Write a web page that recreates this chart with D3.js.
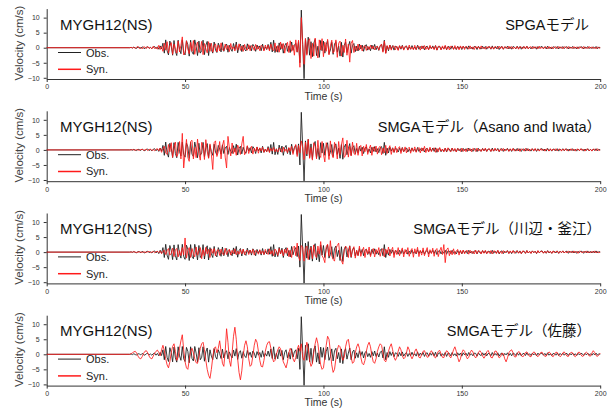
<!DOCTYPE html>
<html lang="ja">
<head>
<meta charset="UTF-8">
<script src="https://cdn.jsdelivr.net/npm/d3@7"></script>
<style>
  body { margin: 0; background: #fff; }
  svg { display: block; }
  text { font-family: "Liberation Sans", Arial, "Noto Sans CJK JP", sans-serif; }
</style>
<title>MYGH12 velocity</title>
</head>
<body>
<div id="chart"></div>
<script>
// ---- data (velocity in cm/s) ----
var stationLabel = "MYGH12(NS)";
var modelLabels = ["SPGAモデル", "SMGAモデル（Asano and Iwata）", "SMGAモデル（川辺・釜江）", "SMGAモデル（佐藤）"];
var legendLabels = ["Obs.", "Syn."];
var xTicks = [0, 50, 100, 150, 200];
var yTicks = [-10, -5, 0, 5, 10];

// traces are flat (0) before sampleStart, then sampled every sampleStep seconds up to 200 s
var sampleStart = 30, sampleStep = 0.5;

var obs = [
  0, 0.1, -0.1, 0.2, -0.1, -0.2, 0.2, 0.1, -0.2, 0.3, -0.1, -0.3, 0.2, 0.3, -0.2, 0.1, -0.3, 0.2, 0.4, -0.3,
  0.3, -0.5, 0.6, -0.4, 1.5, -1.8, 2.6, -1, -2.4, 2.2, 0.5, -2.5, 2.4, -1.2, -2.6, 2.5, -0.5, -2, 2.6, -1.5,
  -2.4, 2.3, 1, -2.8, 2.5, -1.4, -2.2, 2.6, 0.4, -2.6, 2.2, -1.8, -1, 2.5, -2.3, 0.8, 2.1, -2.6, 1.5, -0.6,
  -1.8, 1.9, -0.8, -1.6, 1.5, 0.3, -1.4, 1.7, -1.2, 0.6, 1.2, -1.5, 0.8, -0.4, -1.2, 1.4, -0.6, 1.9, -1.7, 0.5,
  1.2, -1.3, 0.9, -0.5, -1.1, 1.3, -0.4, 0.7, -1, 1.1, 0.4, -1.2, 0.9, -0.3, 0.6, -1, 1.2, -0.8, 0.3, -0.6,
  1.1, -0.7, 1.8, -1.4, 2.5, -1.6, 0.4, -1.5, 1.6, -0.6, 1.3, -1.8, 0.7, 1.5, -1.2, 0.6, -1.6, 1.9, -0.9, 0.8,
  1.5, -1.5, 2, -5, 12.5, 1, -10.3, 3, -2, 3.5, -2.5, 2, -3, 1.5, 2.8, -2.6, 0.5, -3.2, 2.4, -1,
  2.2, -1.8, 1, 2.4, -2, -0.8, 1.8, -2.2, 1.2, 2, -1.5, 0.6, -2.8, 1.8, -3.1, 0.8, 1.9, -1.6, 0.4, 2.1,
  -1.8, 0.8, 1.4, -1.3, 0.5, -1.1, 1.2, -0.4, 0.9, -1.2, 0.6, 1, -0.8, 0.3, -1, 0.9, -0.5, 1.1, -0.7, 0.4,
  -0.9, 0.7, 1.1, -1.2, 2.5, -1.8, 0.6, -1, 0.9, -0.4, 0.7, -0.8, 0.5, 0.3, -0.7, 0.6, -0.5, 0.8, -0.6, 0.2,
  0.6, -0.7, 0.3, -0.5, 0.7, -0.4, 0.2, -0.6, 0.8, -0.5, 0.4, -0.3, 0.6, -0.7, 0.3, 0.5, -0.6, 0.4, -0.3, 0.6,
  -0.5, 0.7, -0.8, 0.3, 0.5, -0.6, 0.2, -0.4, 0.6, -0.7, 0.4, 0.3, -0.5, 0.6, -0.4, 0.2, -0.6, 0.5, -0.3, 0.4,
  -0.6, 0.5, -0.2, 0.4, -0.5, 0.6, -0.3, 0.2, -0.5, 0.4, 0.3, -0.6, 0.5, -0.2, -0.4, 0.5, -0.3, 0.4, -0.5, 0.3,
  0.2, -0.5, 0.6, -0.4, 0.3, -0.3, 0.5, -0.6, 0.2, 0.4, -0.5, 0.3, -0.2, 0.5, -0.4, 0.3, -0.5, 0.4, 0.2, -0.4,
  0.5, -0.3, 0.4, -0.5, 0.2, 0.3, -0.4, 0.5, -0.3, 0.2, -0.4, 0.4, -0.2, 0.3, -0.5, 0.4, -0.2, 0.3, 0.4, -0.3,
  0.3, -0.4, 0.5, -0.3, 0.2, -0.4, 0.3, 0.2, -0.3, 0.4, -0.4, 0.3, -0.2, 0.4, -0.3, 0.2, 0.3, -0.4, 0.3, -0.2,
  0.4, -0.3, 0.2, -0.4, 0.3, -0.2, 0.3, 0.2, -0.4, 0.3, -0.2, 0.4, -0.3, 0.2, -0.3, 0.3, -0.2, 0.4, -0.3, 0.2,
  0
];

var synSPGA = [
  0, 0.1, -0.1, 0.2, -0.3, 0.2, 0.4, -0.3, 0.1, -0.4, 0.3, 0.2, -0.3, 0.4, -0.2, 0.1, -0.4, 0.5, -0.3, 0.2,
  -0.5, 0.8, -0.6, 0.4, -1.2, 1.5, -0.8, 2, -1.8, 0.6, 1.7, -2.2, 1.2, -0.5, -1.8, 2.2, -1.4, 0.8, 3.6, -2.4,
  -1.6, 2.3, -0.5, -2, 1.8, -1.2, 2.4, -2.2, 0.6, 1.9, -1.6, -0.6, 2.1, -2.3, 1.4, -0.4, -1.7, 2, -1.2, 1.5,
  -1.5, 0.5, 1.3, -1.4, 0.9, -1.1, 1.6, -0.7, -1, 1.2, -0.6, 0.8, -1.3, 1.4, -0.5, 0.3, -1.1, 1, -0.8, 1.3,
  -0.9, 0.6, -1.2, 1.1, -0.4, -0.8, 1, -1, 0.7, 0.3, -0.9, 1.1, -0.6, 0.5, -1, 0.8, 0.4, -1.1, 0.9, -0.5,
  0.8, -1.1, 1.2, -0.5, -1, 1.6, -1.3, 0.7, -1.5, 1.9, -0.4, 1.4, -1.8, 0.6, 1.8, -1.6, 2.3, -1.2, 0.9, -2.5,
  2.6, -1.4, 2.5, -6.5, 10, 1, -5.5, 3, -2.5, 2, 3, -3.6, 1.5, -2.8, 3.2, -1, -3.4, 2.6, -0.8, 3,
  -3, 1.8, -1.2, 2.8, -2.4, 0.6, 2.5, -1.8, -1, 2.6, -3.2, 1.5, 2.2, -2.8, 0.8, -1.6, 2.9, -2.5, 1.2, -4.8,
  1.5, 2.4, -1.6, 0.5, -1, 1.2, -0.8, 0.9, -1.1, 0.4, 0.7, -0.9, 0.5, -0.6, 0.8, -0.4, 0.6, -0.7, 0.3, 0.5,
  -0.8, 0.6, 1.2, -1.5, 2.2, -1.9, 0.7, -0.6, 0.9, -0.8, 0.4, 0.6, -0.7, 0.5, -0.9, 0.7, -0.3, 0.6, -0.8, 0.5,
  0.4, -0.8, 0.9, -0.5, 0.2, -0.7, 0.8, -0.6, 0.4, 0.5, -0.8, 0.6, -0.4, 0.7, -0.6, 0.3, -0.7, 0.8, -0.4, 0.3,
  -0.6, 0.7, -0.8, 0.5, 0.3, -0.7, 0.6, -0.5, 0.8, -0.6, 0.4, -0.7, 0.5, 0.3, -0.6, 0.7, -0.5, 0.4, -0.7, 0.6,
  -0.3, 0.5, -0.6, 0.4, 0.2, -0.5, 0.6, -0.4, 0.3, -0.6, 0.5, -0.2, 0.4, -0.5, 0.6, -0.3, 0.2, -0.5, 0.4, -0.2,
  0.5, -0.4, 0.3, -0.5, 0.4, 0.2, -0.4, 0.5, -0.3, 0.4, -0.5, 0.3, 0.2, -0.4, 0.5, -0.3, 0.4, -0.4, 0.2, -0.3,
  0.4, -0.5, 0.3, 0.2, -0.4, 0.4, -0.3, 0.5, -0.4, 0.2, 0.3, -0.4, 0.4, -0.2, 0.3, -0.4, 0.5, -0.3, 0.2, -0.4,
  0.3, 0.2, -0.4, 0.4, -0.3, 0.3, -0.4, 0.2, 0.3, -0.3, 0.4, -0.2, 0.3, -0.4, 0.3, 0.2, -0.3, 0.4, -0.3, 0.2,
  -0.3, 0.4, -0.2, 0.3, -0.4, 0.3, 0.2, -0.3, 0.4, -0.3, 0.2, -0.3, 0.4, -0.2, 0.3, -0.3, 0.2, -0.4, 0.3, -0.2,
  0
];

var synAsano = [
  0, 0, 0.1, 0, -0.1, 0.1, 0, -0.1, 0.1, 0.2, -0.1, 0, 0.2, -0.2, 0.1, 0.3, -0.2, 0.1, -0.3, 0.2,
  0.4, -0.3, 0.6, -0.8, 0.5, 1.2, -1, -1.5, 1.8, -0.6, 2.4, -2.5, 0.8, 2.6, -2.2, -1.2, 2.8, -3, 5.5, -6,
  -1, 3.5, -2.5, -3.8, 2.8, 3.2, -3, 0.8, -2.6, 3.6, -1.2, -3.4, 2.5, 1.5, -3.2, 3.4, -0.5, -2.8, 2, -1.5,
  -6.5, 2.4, 3, -2.2, -0.6, 2.8, -3, 1.4, 3.2, -2.4, -6, 4.5, 0.8, -2, 2.3, -1.2, 0.6, -1.8, 1.6, 0.4,
  -1.5, 2, 4.5, -1.6, -0.8, 1.4, -1.2, 0.5, 1.2, -1.4, 0.6, -0.5, 1, -1.1, 0.7, -0.4, 0.9, -0.8, 0.3, -0.6,
  0.7, -0.9, 0.5, -0.4, 0.8, -0.6, 0.3, -0.7, 0.6, 0.4, -0.8, 0.9, -0.5, 0.3, -0.9, 0.8, -0.4, 1.2, -1.5, 0.6,
  1.8, -2.2, 1.5, -1, 3, 0.8, -3.2, 2.6, -1.4, 3.5, -2.8, 0.8, -3.4, 2.4, 1.2, -3, 3.2, -1.8, -2.5, 2.8,
  -1.4, -4, 2.4, 1, -3.2, 3, -1.2, -2.6, 2.5, 0.6, -3, 2.8, -1.6, 1.8, 4, -2.5, -1.8, 3.2, -2.4, 1.2,
  -2, 2.6, -1.2, -1.6, 2.2, -1.8, 0.8, 1.5, -2, 1.2, -0.6, 1.8, -1.5, 0.4, 1.6, -1.8, 1, -0.5, 1.3, -1.4,
  0.8, 1.2, -1.6, 0.6, -1, 1.5, -1.2, 0.4, 1.4, -1.5, 0.6, -0.8, 1.2, -0.9, 0.5, 1.1, -1.2, 0.7, -0.6, 1,
  -1, 0.4, 0.9, -1.1, 0.6, -0.5, 1, -0.8, 0.3, 0.8, -1, 0.7, -0.4, 1.2, -0.9, 0.5, -0.7, 0.9, -0.6, 0.3,
  0.7, -0.8, 0.5, -0.6, 0.8, -0.4, 0.3, -0.7, 0.6, -0.5, 0.7, -0.3, -0.6, 0.6, -0.4, 0.5, -0.7, 0.4, 0.2, -0.5,
  0.6, -0.5, 0.3, -0.6, 0.5, -0.3, 0.4, -0.6, 0.5, 0.2, -0.5, 0.6, -0.4, 0.3, -0.5, 0.4, -0.3, 0.6, -0.5, 0.2,
  0.4, -0.5, 0.3, -0.4, 0.6, -0.3, 0.2, -0.5, 0.4, -0.3, 0.5, -0.4, 0.2, 0.3, -0.5, 0.4, -0.3, 0.5, -0.4, 0.2,
  -0.3, 0.4, -0.5, 0.3, 0.2, -0.4, 0.5, -0.3, 0.4, -0.4, 0.2, 0.3, -0.4, 0.5, -0.3, 0.2, -0.4, 0.4, -0.2, 0.3,
  -0.4, 0.3, 0.2, -0.4, 0.4, -0.3, 0.3, -0.2, 0.4, -0.3, 0.2, 0.3, -0.4, 0.3, -0.2, 0.4, -0.3, 0.2, -0.3, 0.4,
  -0.2, 0.3, -0.4, 0.2, 0.3, -0.3, 0.4, -0.2, 0.3, -0.4, 0.2, 0.3, -0.3, 0.2, -0.4, 0.3, 0.2, -0.3, 0.4, -0.2,
  0
];

var synKawabe = [
  0, 0, 0, 0.1, 0, -0.1, 0, 0.1, 0, -0.1, 0.1, 0, -0.1, 0.1, 0.2, -0.1, 0, 0.2, -0.2, 0.1,
  0.3, -0.2, 0.4, -0.5, 0.3, 0.6, -0.8, 0.5, 1.2, -1, -0.4, 1.3, -1.5, 0.8, 1.2, -1.6, 0.5, -1.2, 1.5, -0.9,
  4.7, -2, 0.6, 1.5, -1.8, 1.2, -0.5, -1.6, 1.7, -1, 0.4, 1.5, -2.2, 0.8, -1.2, 1.6, -0.6, 0.9, -1.8, 1.1,
  -0.4, 1.2, -1.3, 0.5, 0.8, -1.1, 1, -0.6, -0.9, 1.3, -0.8, 0.4, 0.9, -1, 0.6, -0.5, 1.1, -0.9, 0.3, -0.7,
  0.8, -0.6, 1, -0.9, 0.4, 0.6, -0.8, 0.7, -0.4, 0.9, -1, 0.5, 0.3, -0.7, 0.8, -0.6, 0.4, -0.8, 0.9, -0.3,
  -0.8, 1.1, -0.7, 0.5, -1.2, 1, 0.3, -1.1, 1.2, -0.6, 0.8, -1.3, 1, -0.4, 1.4, -1.5, 0.6, -1.8, 1.5, 2,
  -1.2, 3, -1.5, -2.8, 2.2, 1.6, -3, 1.2, 2, -2.5, 0.6, 1.6, -2.2, 2.4, -1, -1.8, 2, -0.6, 3.5, -1.2,
  -2, -3.5, 1.8, 2.6, -1.4, 3.8, -1.2, -2.4, -3, 1.2, 2.2, 3, -1.6, -2.8, -4, 0.8, 2, 1.4, -1.8, 2,
  -1.6, 0.8, 1.8, -2, 0.6, -1.2, 2, -1.4, 0.4, 1.6, -1.8, 1, -0.6, 1.7, -1.5, 0.5, 1.2, -1.6, 0.9, -0.4,
  1.5, -1.4, 0.6, 1.2, -1.6, 1, -0.5, 1.7, -1.3, 0.4, 1.6, -1.8, 0.7, -0.8, 1.5, -1.2, 0.3, 1.4, -1.6, 0.9,
  -0.6, 1.5, -1.4, 0.5, 1.2, -1.7, 1.1, -0.4, 1.6, -1.5, 0.6, -1, 1.4, -1.2, 0.4, 1.5, -1.6, 0.8, -0.5, 1.3,
  -1.4, 0.6, 1.2, -1.5, 0.4, 1.6, -0.8, 2.5, -3.5, 0.8, 1.4, -1.2, 0.5, -0.9, 1.1, -0.8, 0.3, 0.9, -1, 0.6,
  -0.5, 0.7, -0.6, 0.4, 0.5, -0.7, 0.6, -0.4, 0.3, -0.6, 0.7, -0.5, 0.4, 0.3, -0.6, 0.5, -0.4, 0.6, -0.5, 0.3,
  -0.4, 0.5, -0.6, 0.4, 0.3, -0.5, 0.6, -0.4, 0.3, -0.5, 0.5, -0.3, 0.2, 0.4, -0.5, 0.4, -0.3, 0.5, -0.4, 0.2,
  0.4, -0.4, 0.3, -0.5, 0.4, 0.2, -0.4, 0.5, -0.3, 0.3, -0.4, 0.4, -0.2, 0.3, -0.4, 0.5, -0.3, 0.2, 0.3, -0.4,
  0.3, -0.3, 0.4, -0.2, 0.3, -0.4, 0.4, -0.3, 0.2, 0.3, -0.4, 0.3, -0.2, 0.4, -0.3, 0.2, -0.3, 0.4, -0.2, 0.3,
  -0.3, 0.4, -0.2, 0.3, -0.4, 0.3, 0.2, -0.3, 0.3, -0.2, 0.4, -0.3, 0.2, -0.3, 0.3, -0.2, 0.4, -0.3, 0.2, -0.2,
  0
];

var synSato = [
  0, 0.2, 0.5, 0.8, 1, 0.4, -0.6, -1.3, -1.5, -0.8, 0.3, 1, 1.2, 0.5, -0.6, -1.3, -1.5, -0.6, 0.4, 1,
  1.4, 0.6, -0.5, 1.5, 3, 1.2, -1.5, -3.5, -4.5, -2.5, 0.5, 2.6, 3.5, 1, -2, -1, 2, 4.5, 6.5, 1.5,
  -2.5, -4.5, -5, -2, 1, 2, 0.5, -1.5, -2.8, -3, -0.5, 2, 3.5, 4, 1.5, -2, -5, -7, -8, -5,
  -1, 2, 2.5, 0.5, 2, 4.5, 1, -3, -4, 1, 8.5, 4, -2, -4, 0.5, 6, 9, 5, -1.5, -6,
  -8.5, -5.5, -0.5, 3, 4.5, 2.5, -1.5, -4, -3.5, -0.5, 3, 5, 4, 1, -2, -4, -4.2, -2, 1, 3,
  4, 4.2, 2, -1, -2.5, -2, 0, 1.5, 2.5, 1.8, -0.5, -2.5, -3.5, -4.5, -2.5, 0.5, 2, 1, -1.5, -2.5,
  -1, 1.5, 3, 1, 3.5, -1, -2, 1.5, 4, 2, -2, -4, -3, 0.5, 3.5, 5.5, 3.5, -0.5, -3.5, -5,
  -4.5, -1, 3, 6, 5, 1, -3.5, -6, -5, -1.5, 1.5, 3, 2.5, 0, -2, -1, 2.5, 4.5, 5, 2,
  -1, -3, -2.5, 0.5, 2.5, 3.5, 2, -1, -3, -3.5, -2, 1, 3, 4, 2.5, -0.5, -2.5, -3, -1.5, 1,
  2.5, 3.5, 3, 0.5, -2, -2.5, -1, 1, 2.5, 3.5, 1.5, -1, -2, -1, 1, 2.5, 1.5, -0.5, -1.5, -1,
  0.5, 2.5, 1.5, -0.5, -1.5, -0.5, 1, 1.8, 0.5, -1, -1.2, 0, 1, 1.2, 0, -1, -0.8, 0.5, 1.2, 0.3,
  -0.8, -1.2, 0, 1, 1.3, 0.2, -1, -1.1, 0.2, 1.2, 0.8, -0.6, -1.2, 0, 1.5, 2.5, 1, -1, -2.5, -1.5,
  0.5, 1.5, 1, -0.5, -1.5, -1, 0.5, 1.4, 0.8, -0.5, -1.2, -0.6, 0.6, 1.2, 0.6, -0.6, -1.3, -0.5, 0.8, 1.3,
  0.3, -1, -1.2, 0, 1.1, 1, -0.3, -1.2, -0.8, 0.4, 0.2, -1.5, -2.5, -1.2, 0.5, 1.2, 1.5, 0.5, -0.8, -0.9,
  0.2, 0.9, 0.6, -0.4, -0.9, -0.3, 0.6, 0.8, 0.1, -0.7, -0.8, 0.2, 0.8, 0.5, -0.4, -0.8, -0.2, 0.6, 0.7, -0.1,
  -0.7, -0.6, 0.3, 0.8, 0.4, -0.5, -0.8, 0, 0.7, 0.6, -0.3, -0.8, -0.4, 0.5, 0.8, 0.1, -0.6, -0.7, 0.2, 0.7,
  0.5, -0.4, -0.8, -0.2, 0.6, 0.7, -0.1, -0.7, -0.5, 0.3, 0.7, 0.3, -0.5, -0.6, 0.4, 1.2, 0.6, -0.4, -0.7, -0.2,
  0.3
];

var synSeries = [synSPGA, synAsano, synKawabe, synSato];

// ---- layout ----
var width = 608, height = 409;
var panelStep = 102.2;
var modelLabelRight = [589, 601, 601, 591];

var svg = d3.select("#chart").append("svg")
    .attr("width", width)
    .attr("height", height);

var xScale = d3.scaleLinear().domain([0, 200]).range([46.7, 600.2]);
var yScale = d3.scaleLinear().domain([-10.4, 13]).range([79, 8.6]);

// turn a sample list into [time, value] points (flat part from 0 s first)
function toPoints(vals) {
    var pts = [[0, 0]];
    vals.forEach(function (v, i) {
        pts.push([sampleStart + i * sampleStep, v]);
    });
    return pts;
}

var line = d3.line()
    .x(function (d) { return xScale(d[0]); })
    .y(function (d) { return yScale(d[1]); });

var obsPoints = toPoints(obs);

synSeries.forEach(function (syn, i) {
    var g = svg.append("g")
        .attr("transform", "translate(0," + (i * panelStep) + ")");

    // axes
    var yAxis = g.append("g")
        .attr("transform", "translate(" + xScale(0) + ",0)")
        .call(d3.axisLeft(yScale).tickValues(yTicks).tickSize(3).tickSizeOuter(0).tickPadding(4));
    var xAxis = g.append("g")
        .attr("transform", "translate(0," + yScale(-10.4) + ")")
        .call(d3.axisBottom(xScale).tickValues(xTicks).tickSize(3).tickSizeOuter(0).tickPadding(2.5));

    [yAxis, xAxis].forEach(function (ax) {
        ax.select(".domain").attr("stroke", "#333");
        ax.selectAll(".tick line").attr("stroke", "#333");
        ax.selectAll(".tick text")
            .attr("fill", "#333")
            .style("font-size", "7px");
    });

    // traces
    g.append("path")
        .datum(obsPoints)
        .attr("d", line)
        .attr("fill", "none")
        .attr("stroke", "#1a1a1a")
        .attr("stroke-width", 0.85);

    g.append("path")
        .datum(toPoints(syn))
        .attr("d", line)
        .attr("fill", "none")
        .attr("stroke", "#ff1a1a")
        .attr("stroke-width", 0.85);

    // labels
    g.append("text")
        .attr("x", 60)
        .attr("y", 29.5)
        .style("font-size", "15px")
        .attr("fill", "#111")
        .text(stationLabel);

    g.append("text")
        .attr("x", modelLabelRight[i])
        .attr("y", 29.5)
        .attr("text-anchor", "end")
        .style("font-size", "14.5px")
        .attr("fill", "#111")
        .text(modelLabels[i]);

    g.append("text")
        .attr("transform", "translate(23,43) rotate(-90)")
        .attr("text-anchor", "middle")
        .style("font-size", "11.5px")
        .attr("fill", "#444")
        .text("Velocity (cm/s)");

    g.append("text")
        .attr("x", xScale(100))
        .attr("y", 99.8)
        .attr("text-anchor", "middle")
        .style("font-size", "10.5px")
        .attr("fill", "#333")
        .text("Time (s)");

    // legend
    var legendColors = ["#222", "#ff1a1a"];
    legendLabels.forEach(function (lab, k) {
        var ly = 52.5 + k * 16.8;
        g.append("line")
            .attr("x1", 58).attr("x2", 81)
            .attr("y1", ly).attr("y2", ly)
            .attr("stroke", legendColors[k])
            .attr("stroke-width", k === 0 ? 1 : 1.5);
        g.append("text")
            .attr("x", 86)
            .attr("y", ly + 4)
            .style("font-size", "11px")
            .attr("fill", "#222")
            .text(lab);
    });
});
</script>
</body>
</html>
